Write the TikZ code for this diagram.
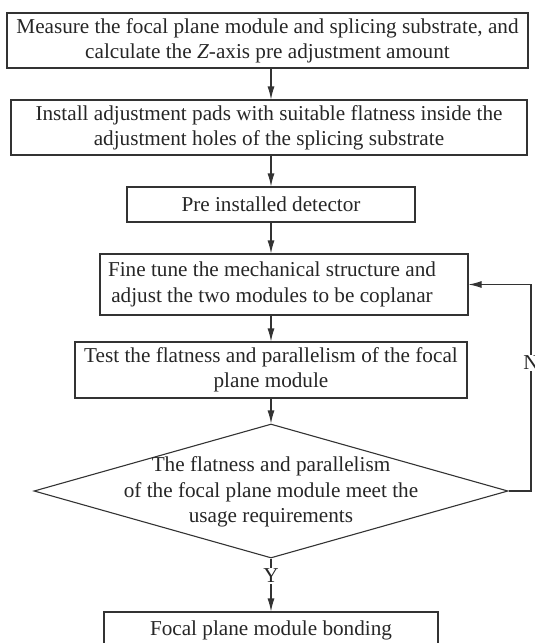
\documentclass[tikz,border=0pt]{standalone}
\usepackage{fontspec}
\setmainfont{Liberation Serif}
\usepackage{tikz}
\usetikzlibrary{arrows.meta, shapes.geometric}
\definecolor{ink}{HTML}{262626}
\definecolor{inksoft}{HTML}{333333}

\begin{document}
\begin{tikzpicture}[x=1pt, y=-1pt, line width=1.1pt,
  box/.style={draw=inksoft, rectangle, inner sep=0pt, align=center, text=ink,
              font={\fontsize{21.2}{25}\selectfont}},
  txt/.style={inner sep=0pt, align=center, text=ink, font={\fontsize{21.2}{25.5}\selectfont}},
  lab/.style={fill=white, inner sep=1.5pt, text=ink, font={\fontsize{21.2}{24}\selectfont}},
  arr/.style={draw=inksoft, -{Latex[length=13pt, width=7pt]}}]
  \useasboundingbox (0,0) rectangle (535,643);
  % steps, top to bottom
  \node[box, minimum width=521, minimum height=55] (meas) at (267.5,40.5)
    {Measure the focal plane module and splicing substrate, and\\calculate the \textit{Z}-axis pre adjustment amount};
  \node[box, minimum width=516, minimum height=55] (pads) at (269,127.5)
    {Install adjustment pads with suitable flatness inside the\\adjustment holes of the splicing substrate};
  \node[box, minimum width=288, minimum height=35] (pre) at (271,204.5) {Pre installed detector};
  \node[box, minimum width=368, minimum height=61] (tune) at (284,284.5) {};
  \node[txt] (tunetxt) at (272,284.5)
    {Fine tune the mechanical structure and\\adjust the two modules to be coplanar};
  \node[box, minimum width=392, minimum height=56] (test) at (271,370)
    {Test the flatness and parallelism of the focal\\plane module};
  \node[diamond, draw=inksoft, inner sep=0pt, minimum width=474, minimum height=134] (check) at (271,491) {};
  \node[txt] (checktxt) at (271,492)
    {The flatness and parallelism\\of the focal plane module meet the\\usage requirements};
  \node[box, minimum width=334, minimum height=36] (bond) at (271,630) {Focal plane module bonding};
  % connectors
  \draw[arr] (meas.south -| check.north) -- (pads.north -| check.north);
  \draw[arr] (pads.south -| check.north) -- (pre.north -| check.north);
  \draw[arr] (pre.south -| check.north) -- (tune.north -| check.north);
  \draw[arr] (tune.south -| check.north) -- (test.north -| check.north);
  \draw[arr] (test.south -| check.north) -- (check.north);
  \draw[arr] (check.east) -- (531,491) |- (tune.east);
  \draw[arr] (check.south) -- (bond.north);
  \node[lab] (no) at (531,363) {N};
  \node[lab] (yes) at (271,576) {Y};
\end{tikzpicture}
\end{document}
